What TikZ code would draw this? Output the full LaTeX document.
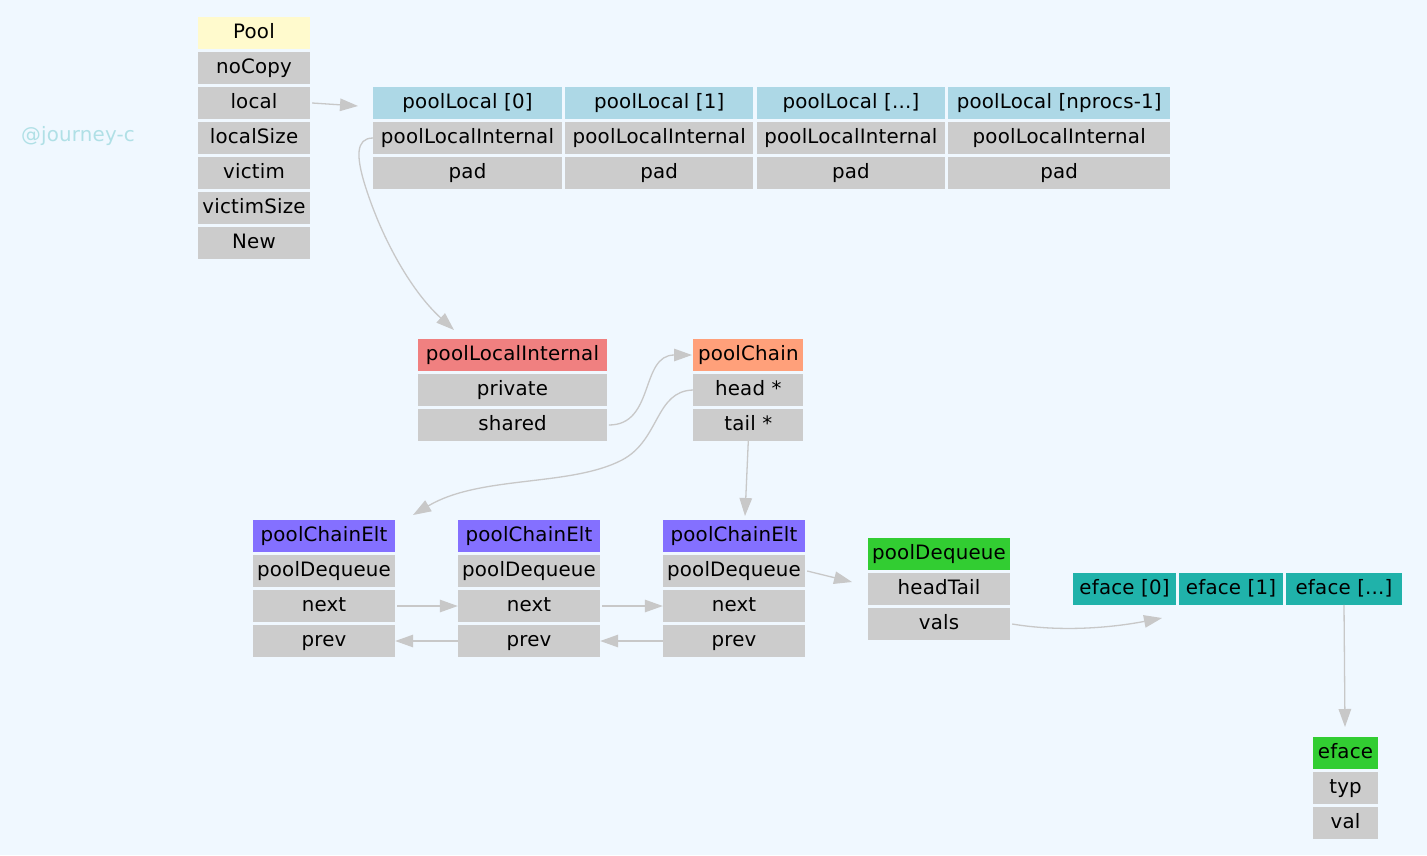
\documentclass[tikz,border=0pt]{standalone}
\usepackage{fontspec}
\setmainfont{DejaVu Sans}[LetterSpace=1]
\usetikzlibrary{arrows.meta}
\definecolor{bgblue}{HTML}{F0F8FF}
\definecolor{cellgray}{HTML}{CCCCCC}
\definecolor{hdyellow}{HTML}{FFFACD}
\definecolor{hdblue}{HTML}{ADD8E6}
\definecolor{hdcoral}{HTML}{F08080}
\definecolor{hdsalmon}{HTML}{FFA07A}
\definecolor{hdslate}{HTML}{8470FF}
\definecolor{hdlime}{HTML}{32CD32}
\definecolor{hdsea}{HTML}{20B2AA}
\definecolor{edgegray}{HTML}{C8C8C8}
\definecolor{markcol}{HTML}{B0E0E6}
\begin{document}
\begin{tikzpicture}[x=1pt,y=-1pt,
  cell/.style={fill=cellgray, inner sep=0pt, minimum height=31.5pt,
    text height=15pt, text depth=4pt, font=\fontsize{19.8}{23}\selectfont},
  link/.style={draw=edgegray, line width=1.3pt,
    -{Triangle[length=18pt,width=12.5pt,fill=edgegray]}}]
\fill[bgblue] (0,0) rectangle (1427,855);
\useasboundingbox (0,0) rectangle (1427,855);

% watermark
\node[text=markcol, font=\fontsize{19.8}{23}\selectfont] (mark) at (78,136) {@journey-c};

% Pool struct
\begin{scope}[every node/.style={cell, minimum width=112pt}]
\node[fill=hdyellow] (p0) at (254,33) {Pool};
\node (p1) at (254,68) {noCopy};
\node (p2) at (254,103) {local};
\node (p3) at (254,138) {localSize};
\node (p4) at (254,173) {victim};
\node (p5) at (254,208) {victimSize};
\node (p6) at (254,243) {New};
\end{scope}

% poolLocal array
\begin{scope}[every node/.style={cell}]
\node[fill=hdblue, minimum width=188.4pt] (lh0) at (467.5,103) {poolLocal [0]};
\node[fill=hdblue, minimum width=188.3pt] (lh1) at (659.2,103) {poolLocal [1]};
\node[fill=hdblue, minimum width=188.3pt] (lh2) at (850.9,103) {poolLocal [...]};
\node[fill=hdblue, minimum width=221.7pt] (lh3) at (1059.2,103) {poolLocal [nprocs-1]};
\node[minimum width=188.4pt] (li0) at (467.5,138) {poolLocalInternal};
\node[minimum width=188.3pt] (li1) at (659.2,138) {poolLocalInternal};
\node[minimum width=188.3pt] (li2) at (850.9,138) {poolLocalInternal};
\node[minimum width=221.7pt] (li3) at (1059.2,138) {poolLocalInternal};
\node[minimum width=188.4pt] (lp0) at (467.5,173) {pad};
\node[minimum width=188.3pt] (lp1) at (659.2,173) {pad};
\node[minimum width=188.3pt] (lp2) at (850.9,173) {pad};
\node[minimum width=221.7pt] (lp3) at (1059.2,173) {pad};
\end{scope}

% poolLocalInternal and poolChain
\begin{scope}[every node/.style={cell, minimum width=188.4pt}]
\node[fill=hdcoral] (pi0) at (512.5,355) {poolLocalInternal};
\node (pi1) at (512.5,390) {private};
\node (pi2) at (512.5,425) {shared};
\end{scope}
\begin{scope}[every node/.style={cell, minimum width=110pt}]
\node[fill=hdsalmon] (pc0) at (748.3,355) {poolChain};
\node (pc1) at (748.3,390) {head *};
\node (pc2) at (748.3,425) {tail *};
\end{scope}

% poolChainElt list
\begin{scope}[every node/.style={cell, minimum width=142pt}]
\node[fill=hdslate] (a0) at (324,536) {poolChainElt};
\node (a1) at (324,571) {poolDequeue};
\node (a2) at (324,606) {next};
\node (a3) at (324,641) {prev};
\node[fill=hdslate] (b0) at (529,536) {poolChainElt};
\node (b1) at (529,571) {poolDequeue};
\node (b2) at (529,606) {next};
\node (b3) at (529,641) {prev};
\node[fill=hdslate] (c0) at (734,536) {poolChainElt};
\node (c1) at (734,571) {poolDequeue};
\node (c2) at (734,606) {next};
\node (c3) at (734,641) {prev};
\end{scope}

% poolDequeue
\begin{scope}[every node/.style={cell, minimum width=142pt}]
\node[fill=hdlime] (d0) at (939,554) {poolDequeue};
\node (d1) at (939,589) {headTail};
\node (d2) at (939,624) {vals};
\end{scope}

% eface array
\begin{scope}[every node/.style={cell, fill=hdsea}]
\node[minimum width=103pt] (f0) at (1124.5,589) {eface [0]};
\node[minimum width=104pt] (f1) at (1231,589) {eface [1]};
\node[minimum width=116pt] (f2) at (1344,589) {eface [...]};
\end{scope}

% eface struct
\begin{scope}[every node/.style={cell, minimum width=65pt}]
\node[fill=hdlime] (g0) at (1345.5,753) {eface};
\node (g1) at (1345.5,788) {typ};
\node (g2) at (1345.5,823) {val};
\end{scope}

% free arrow ends
\coordinate (tipLocal) at (358,106);
\coordinate (tipInternal) at (454,330);
\coordinate (tipChain) at (692,355);
\coordinate (tipHead) at (413,515);
\coordinate (tipTail) at (745,516);
\coordinate (tipDeq) at (852,582);
\coordinate (tipVals) at (1162,618);
\coordinate (tipEface) at (1345,727);

% connectors
\draw[link] ([xshift=2pt]p2.east) -- (tipLocal);
\draw[link] (li0.west) .. controls (355,138) and (357,158) .. (364,182)
   .. controls (380,235) and (410,290) .. (tipInternal);
\draw[link] ([xshift=2pt]pi2.east) .. controls (655,425) and (640,355) .. (tipChain);
\draw[link] (pc1.west) .. controls (655,391) and (660,440) .. (622,460)
   .. controls (570,487) and (480,475) .. (tipHead);
\draw[link] (pc2.south) -- (tipTail);
\draw[link] ([xshift=2pt]a2.east) -- (b2.west);
\draw[link] ([xshift=2pt]b2.east) -- (c2.west);
\draw[link] (b3.west) -- (a3.east);
\draw[link] (c3.west) -- (b3.east);
\draw[link] ([xshift=2pt]c1.east) -- (tipDeq);
\draw[link] ([xshift=2pt]d2.east) .. controls (1060,632) and (1110,628) .. (tipVals);
\draw[link] (f2.south) -- (tipEface);
\end{tikzpicture}
\end{document}
